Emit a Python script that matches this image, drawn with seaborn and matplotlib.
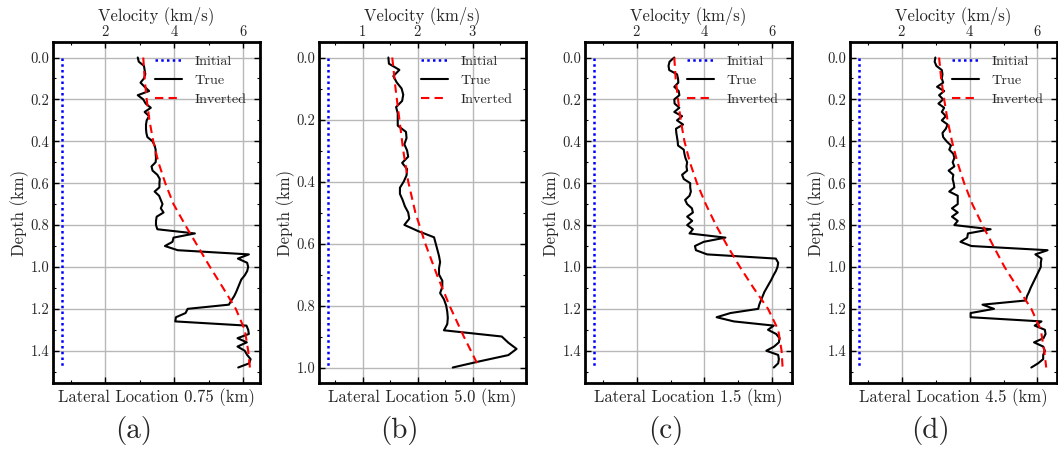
import numpy as np
import pandas as pd
import matplotlib
matplotlib.use("Agg")
import matplotlib.pyplot as plt
from matplotlib.ticker import MultipleLocator
import seaborn as sns

# ---------------- data ----------------
panel_tags = ["(a)", "(b)", "(c)", "(d)"]
lateral_labels = ["Lateral Location 0.75 (km)", "Lateral Location 5.0 (km)",
                  "Lateral Location 1.5 (km)", "Lateral Location 4.5 (km)"]

depth_long = np.round(np.linspace(0.0, 1.48, 75), 2)   # sampling depth grid (km)
depth_short = np.round(np.linspace(0.0, 1.0, 51), 2)

inv_depth_long = [0.0, 0.1, 0.2, 0.3, 0.4, 0.5, 0.6, 0.7, 0.8, 0.9, 1.0, 1.1, 1.2, 1.3, 1.4, 1.48]
inv_depth_short = [0.0, 0.1, 0.2, 0.3, 0.4, 0.5, 0.6, 0.7, 0.8, 0.9, 1.0]

initial_a = [0.75, 0.75]
initial_b = [0.38, 0.38]
initial_c = [0.75, 0.75]
initial_d = [0.75, 0.75]

true_a = [2.94, 2.97, 3.12, 3.14, 3.16, 3.12, 3.02, 3.14, 3.27, 2.94,
          3.10, 3.17, 3.32, 3.14, 3.27, 3.20, 3.18, 3.18, 3.19, 3.22,
          3.37, 3.43, 3.46, 3.46, 3.47, 3.46, 3.34, 3.37, 3.51, 3.58,
          3.57, 3.57, 3.43, 3.56, 3.61, 3.66, 3.61, 3.69, 3.49, 3.47,
          3.47, 3.51, 4.60, 3.98, 3.95, 3.73, 4.10, 6.17, 5.85, 6.12,
          6.15, 6.12, 6.05, 5.95, 5.90, 5.85, 5.80, 5.74, 5.66, 5.59,
          4.39, 4.33, 4.05, 4.03, 6.10, 6.15, 6.17, 5.84, 6.11, 5.84,
          6.05, 6.12, 6.22, 6.18, 5.86]
inv_a = [3.10, 3.14, 3.20, 3.28, 3.39, 3.54, 3.74, 3.98, 4.32, 4.68,
         5.04, 5.42, 5.79, 6.05, 6.15, 6.20]

true_b = [1.47, 1.48, 1.67, 1.56, 1.62, 1.71, 1.74, 1.72, 1.61, 1.64,
          1.64, 1.64, 1.79, 1.80, 1.76, 1.81, 1.83, 1.72, 1.81, 1.80,
          1.75, 1.68, 1.68, 1.73, 1.77, 1.83, 1.85, 1.76, 2.01, 2.30,
          2.33, 2.36, 2.39, 2.41, 2.39, 2.39, 2.45, 2.45, 2.41, 2.48,
          2.52, 2.54, 2.55, 2.54, 2.48, 3.53, 3.65, 3.80, 3.65, 3.13,
          2.64]
inv_b = [1.54, 1.60, 1.67, 1.74, 1.83, 1.96, 2.14, 2.35, 2.58, 2.84, 3.12]

true_c = [3.11, 2.97, 2.94, 2.96, 3.19, 3.22, 3.23, 3.11, 3.24, 3.26,
          3.11, 3.12, 3.26, 3.11, 3.34, 3.19, 3.37, 3.16, 3.17, 3.19,
          3.21, 3.22, 3.39, 3.41, 3.44, 3.49, 3.47, 3.49, 3.34, 3.39,
          3.58, 3.58, 3.60, 3.56, 3.43, 3.49, 3.63, 3.66, 3.49, 3.64,
          3.49, 3.66, 3.56, 4.62, 3.98, 3.72, 3.75, 4.08, 6.11, 6.18,
          6.16, 6.11, 6.04, 5.98, 5.91, 5.84, 5.77, 5.72, 5.67, 5.62,
          5.59, 4.77, 4.36, 4.87, 6.05, 5.88, 6.12, 6.22, 6.20, 6.06,
          5.83, 6.18, 6.20, 6.18, 6.05]
inv_c = [3.11, 3.15, 3.22, 3.30, 3.41, 3.57, 3.78, 4.04, 4.34, 4.68,
         5.05, 5.45, 5.88, 6.18, 6.28, 6.31]

true_d = [2.99, 2.97, 3.02, 3.18, 3.20, 3.18, 3.22, 3.04, 3.25, 3.10,
          3.22, 3.08, 3.25, 3.18, 3.30, 3.18, 3.35, 3.30, 3.20, 3.22,
          3.32, 3.45, 3.40, 3.52, 3.55, 3.50, 3.55, 3.38, 3.52, 3.50,
          3.53, 3.55, 3.40, 3.65, 3.65, 3.65, 3.48, 3.65, 3.48, 3.65,
          3.55, 4.62, 3.95, 3.93, 3.73, 4.05, 6.30, 5.94, 6.12, 6.10,
          6.10, 6.04, 5.98, 5.92, 5.86, 5.80, 5.75, 5.69, 5.66, 4.38,
          4.72, 4.03, 4.03, 6.12, 5.92, 6.22, 6.24, 6.18, 5.90, 6.17,
          6.22, 6.17, 6.17, 6.02, 5.82]
inv_d = [3.10, 3.16, 3.25, 3.35, 3.48, 3.64, 3.84, 4.08, 4.38, 4.70,
         5.03, 5.42, 5.82, 6.10, 6.20, 6.26]

x_major = [2, 1, 2, 2]

# ---------------- style ----------------
sns.set_theme(style="white")
plt.rcParams["font.family"] = ["cmr10", "DejaVu Serif"]
plt.rcParams["axes.formatter.use_mathtext"] = True
plt.rcParams["mathtext.fontset"] = "cm"

fig = plt.figure(figsize=(10.58, 4.51), dpi=100)
W, H = 1058.0, 451.0
lefts = [53, 319, 585, 850]
ax_w, top, bottom = 207, 42, 383

panels = [
    (depth_long, true_a, inv_depth_long, inv_a, initial_a),
    (depth_short, true_b, inv_depth_short, inv_b, initial_b),
    (depth_long, true_c, inv_depth_long, inv_c, initial_c),
    (depth_long, true_d, inv_depth_long, inv_d, initial_d),
]

for i, (dep, tru, idep, inv, ini) in enumerate(panels):
    ax = fig.add_axes([lefts[i] / W, 1 - bottom / H, ax_w / W, (bottom - top) / H])
    ini_depth = [dep[0], dep[-1]]
    sns.lineplot(x=ini, y=ini_depth, ax=ax, sort=False, estimator=None,
                 color="blue", linestyle=(0, (1, 1.3)), linewidth=1.8, label="Initial")
    sns.lineplot(x=tru, y=list(dep), ax=ax, sort=False, estimator=None,
                 color="black", linewidth=1.5, label="True")
    sns.lineplot(x=inv, y=idep, ax=ax, sort=False, estimator=None,
                 color="red", linestyle=(0, (4, 2.5)), linewidth=1.5, label="Inverted")
    ax.invert_yaxis()
    ax.xaxis.set_major_locator(MultipleLocator(x_major[i]))
    ax.xaxis.set_minor_locator(MultipleLocator(x_major[i] / 2))
    ax.yaxis.set_major_locator(MultipleLocator(0.2))
    ax.yaxis.set_minor_locator(MultipleLocator(0.1))
    ax.yaxis.set_major_formatter(plt.FormatStrFormatter("%.1f"))
    ax.xaxis.tick_top()
    ax.xaxis.set_label_position("top")
    ax.tick_params(which="both", direction="in", top=True, bottom=True,
                   left=True, right=True, labelsize=10.5, color="black")
    ax.tick_params(which="major", length=4, width=1)
    ax.tick_params(which="minor", length=2.5, width=0.8)
    ax.tick_params(axis="x", labelbottom=False, labeltop=True, pad=2)
    ax.tick_params(axis="y", pad=2.5)
    ax.grid(True, which="major", color="#b8b8b8", linewidth=1.0)
    for sp in ax.spines.values():
        sp.set_linewidth(2.0)
        sp.set_color("black")
    ax.set_xlabel("Velocity (km/s)", fontsize=12, labelpad=3)
    ax.set_ylabel("Depth (km)", fontsize=12, labelpad=1)
    ax.legend(loc="upper right", frameon=False, fontsize=10.2, handlelength=1.9,
              borderaxespad=0.55, labelspacing=0.4, handletextpad=0.9)
    ax.text(0.5, -0.015, lateral_labels[i], transform=ax.transAxes,
            ha="center", va="top", fontsize=12)
    ax.text(0.39, -0.14, panel_tags[i], transform=ax.transAxes,
            ha="center", va="center", fontsize=21)

fig.savefig("out.png", dpi=100)
